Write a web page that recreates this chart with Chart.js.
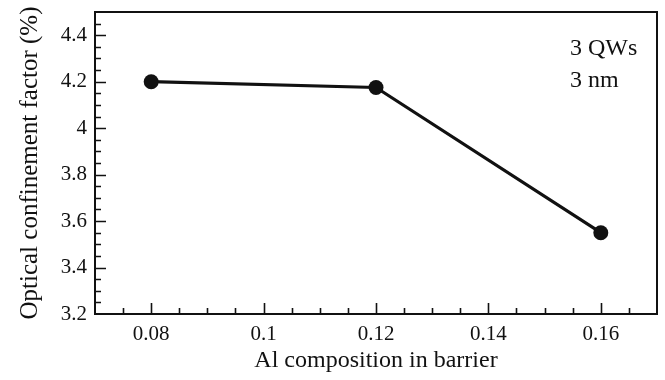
<!DOCTYPE html>
<html>
<head>
<meta charset="utf-8">
<script src="https://cdn.jsdelivr.net/npm/chart.js@4/dist/chart.umd.min.js"></script>
<style>
    html, body { margin: 0; padding: 0; background: #fff; }
    #wrap { width: 665px; height: 380px; }
</style>
</head>
<body>
<div id="wrap"><canvas id="confinementChart" width="665" height="380"></canvas></div>
<script>
// Al fraction in the barrier vs optical confinement factor (3 QWs, 3 nm)
const alComposition = [0.08, 0.12, 0.16];
const confinement = [4.2, 4.175, 3.55];

const xTicks = [0.08, 0.1, 0.12, 0.14, 0.16];
const yTicks = [3.2, 3.4, 3.6, 3.8, 4, 4.2, 4.4];
const notes = ['3 QWs', '3 nm'];

const ink = '#111';
const serif = "'Liberation Serif', 'Times New Roman', serif";

function fmt(v) {
    return String(Number(v.toFixed(3)));
}

// frame around the plot with inward major/minor ticks, plus the annotation text
const frameTicks = {
    id: 'frameTicks',
    beforeDatasetsDraw(chart) {
        const { ctx, chartArea: a, scales: { x, y } } = chart;
        ctx.save();
        ctx.strokeStyle = ink;
        ctx.lineWidth = 2;
        ctx.strokeRect(a.left, a.top, a.right - a.left, a.bottom - a.top);

        ctx.lineWidth = 1.6;
        ctx.beginPath();
        for (let k = Math.round(x.min / 0.005) + 1; k * 0.005 < x.max - 1e-9; k++) {
            const v = k * 0.005;
            const major = xTicks.some(t => Math.abs(t - v) < 1e-9);
            const px = Math.round(x.getPixelForValue(v)) + 0.5;
            ctx.moveTo(px, a.bottom);
            ctx.lineTo(px, a.bottom - (major ? 11 : 6));
        }
        for (let k = Math.round(y.min / 0.05) + 1; k * 0.05 < y.max - 1e-9; k++) {
            const v = k * 0.05;
            const major = yTicks.some(t => Math.abs(t - v) < 1e-9);
            const py = Math.round(y.getPixelForValue(v)) + 0.5;
            ctx.moveTo(a.left, py);
            ctx.lineTo(a.left + (major ? 11 : 6), py);
        }
        ctx.stroke();

        ctx.fillStyle = ink;
        ctx.font = '24px ' + serif;
        ctx.textAlign = 'left';
        ctx.textBaseline = 'alphabetic';
        ctx.fillText(notes[0], 570, 55);
        ctx.fillText(notes[1], 570, 87);
        ctx.restore();
    }
};

new Chart(document.getElementById('confinementChart'), {
    type: 'line',
    data: {
        datasets: [{
            data: alComposition.map((v, i) => ({ x: v, y: confinement[i] })),
            borderColor: ink,
            borderWidth: 3.2,
            pointRadius: 7.5,
            pointBackgroundColor: ink,
            pointBorderColor: ink,
            pointBorderWidth: 0,
            tension: 0
        }]
    },
    options: {
        responsive: false,
        animation: false,
        devicePixelRatio: 1,
        layout: { padding: { top: 12, right: 8, left: 0, bottom: 0 } },
        plugins: {
            legend: { display: false },
            tooltip: { enabled: false }
        },
        scales: {
            x: {
                type: 'linear',
                min: 0.07,
                max: 0.17,
                grid: { display: false, drawTicks: false },
                border: { display: false },
                afterBuildTicks: scale => { scale.ticks = xTicks.map(v => ({ value: v })); },
                afterFit: scale => {
                    scale.height = 66;
                    scale.paddingLeft = 0;
                    scale.paddingRight = 0;
                },
                ticks: {
                    autoSkip: false,
                    maxRotation: 0,
                    padding: 8,
                    color: ink,
                    font: { family: serif, size: 21 },
                    callback: v => fmt(v)
                },
                title: {
                    display: true,
                    text: 'Al composition in barrier',
                    color: ink,
                    font: { family: serif, size: 24 },
                    padding: { top: 0, bottom: 5 }
                }
            },
            y: {
                min: 3.2,
                max: 4.5,
                grid: { display: false, drawTicks: false },
                border: { display: false },
                afterBuildTicks: scale => { scale.ticks = yTicks.map(v => ({ value: v })); },
                afterFit: scale => {
                    scale.width = 95;
                    scale.paddingTop = 0;
                    scale.paddingBottom = 0;
                },
                ticks: {
                    autoSkip: false,
                    padding: 8,
                    color: ink,
                    font: { family: serif, size: 21 },
                    callback: v => fmt(v)
                },
                title: {
                    display: true,
                    text: 'Optical confinement factor (%)',
                    color: ink,
                    font: { family: serif, size: 25 },
                    padding: { top: 15, bottom: 0 }
                }
            }
        }
    },
    plugins: [frameTicks]
});
</script>
</body>
</html>
